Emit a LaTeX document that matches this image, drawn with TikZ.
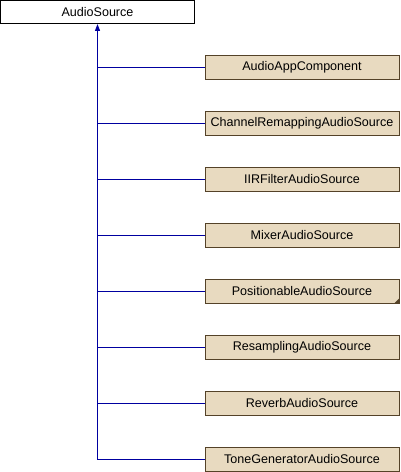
\documentclass[tikz,border=0pt]{standalone}
\usepackage{fontspec}
\setmainfont{Liberation Sans}
\usetikzlibrary{arrows.meta}
\definecolor{boxfill}{RGB}{232,218,192}
\definecolor{boxedge}{RGB}{84,66,40}
\definecolor{edgeblue}{RGB}{0,0,160}
\begin{document}
\begin{tikzpicture}[x=1bp,y=-1bp,
  label font/.style={font=\fontsize{12.6}{14}\selectfont},
  baseclass/.style={draw=black, fill=white, line width=1bp, minimum width=194bp,
    minimum height=23bp, inner sep=0pt, label font},
  derived/.style={draw=boxedge, fill=boxfill, line width=1bp, minimum width=194bp,
    minimum height=24bp, inner sep=0pt, label font},
  inherit/.style={color=edgeblue, line width=1.2bp},
  inherit tip/.style={inherit, -{Triangle[length=7bp,width=5bp]}}
]
\useasboundingbox (0,0) rectangle (400,472);

\node[baseclass] (src) at (97.5,12) {AudioSource};

\node[derived] (k1) at (302,67.5)  {AudioAppComponent};
\node[derived] (k2) at (302,123.5) {ChannelRemappingAudioSource};
\node[derived] (k3) at (302,179.5) {IIRFilterAudioSource};
\node[derived] (k4) at (302,235.5) {MixerAudioSource};
\node[derived] (k5) at (302,291.5) {PositionableAudioSource};
\node[derived] (k6) at (302,347.5) {ResamplingAudioSource};
\node[derived] (k7) at (302,403.5) {ReverbAudioSource};
\node[derived] (k8) at (302,459.5) {ToneGeneratorAudioSource};

% marker for a class with further subclasses
\fill[boxedge] ([shift={(-0.5,-0.5)}]k5.south east) -- ++(-5,0) -- ++(5,-5) -- cycle;

% inheritance edges joined on one trunk
\draw[inherit] (k1.west) -- (k1.west -| src.south);
\draw[inherit] (k2.west) -- (k2.west -| src.south);
\draw[inherit] (k3.west) -- (k3.west -| src.south);
\draw[inherit] (k4.west) -- (k4.west -| src.south);
\draw[inherit] (k5.west) -- (k5.west -| src.south);
\draw[inherit] (k6.west) -- (k6.west -| src.south);
\draw[inherit] (k7.west) -- (k7.west -| src.south);
\draw[inherit tip] (k8.west) -| (src.south);
\end{tikzpicture}
\end{document}
